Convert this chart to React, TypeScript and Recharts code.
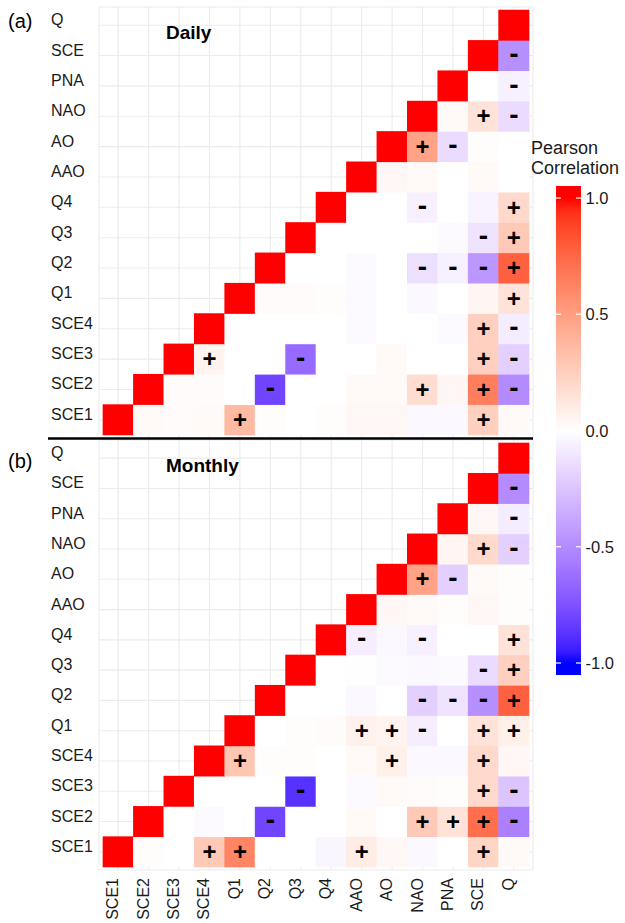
import React from 'react';
import { ScatterChart, Scatter, XAxis, YAxis, CartesianGrid } from 'recharts';

const variables = ['SCE1', 'SCE2', 'SCE3', 'SCE4', 'Q1', 'Q2', 'Q3', 'Q4', 'AAO', 'AO', 'NAO', 'PNA', 'SCE', 'Q'];

// row i holds correlations with columns i+1 .. 13 (diagonal is 1)
const dailyValues: number[][] = [
  [0.03, 0.02, 0.03, 0.36, 0.01, 0.0, 0.01, 0.04, 0.04, -0.03, -0.03, 0.25, 0.03],
  [0.02, 0.02, 0.0, -0.8, 0.0, 0.0, 0.03, 0.03, 0.18, 0.04, 0.65, -0.5],
  [0.06, 0.0, 0.0, -0.64, 0.0, 0.0, 0.03, 0.0, 0.0, 0.25, -0.2],
  [0.0, 0.0, 0.0, 0.0, -0.02, 0.0, 0.0, -0.02, 0.25, -0.08],
  [0.02, 0.02, 0.01, -0.02, 0.0, -0.03, 0.0, 0.05, 0.15],
  [0.0, 0.0, -0.02, 0.0, -0.13, -0.06, -0.45, 0.78],
  [0.0, 0.0, 0.0, 0.0, -0.02, -0.12, 0.28],
  [0.0, 0.0, -0.06, 0.0, -0.05, 0.2],
  [0.04, 0.03, 0.0, 0.03, 0.0],
  [0.48, -0.15, 0.01, 0.0],
  [0.03, 0.15, -0.15],
  [0.0, -0.06],
  [-0.48],
];
const dailySigns: string[] = [
  '...+.......+.',
  '...-....+.+-',
  '+..-.....+-',
  '........+-',
  '........+',
  '....---+',
  '.....-+',
  '..-..+',
  '.....',
  '+-..',
  '.+-',
  '.-',
  '-',
];

const monthlyValues: number[][] = [
  [0.01, 0.0, 0.28, 0.62, 0.0, 0.0, -0.04, 0.1, 0.04, -0.03, 0.0, 0.22, 0.03],
  [0.0, -0.02, 0.0, -0.8, 0.0, 0.0, 0.03, 0.0, 0.28, 0.15, 0.72, -0.55],
  [0.0, 0.0, 0.0, -0.88, 0.0, -0.02, 0.03, 0.02, 0.01, 0.2, -0.25],
  [0.3, 0.01, 0.01, 0.0, 0.03, 0.08, -0.03, -0.03, 0.2, 0.04],
  [0.0, 0.01, 0.02, 0.07, 0.06, -0.07, 0.0, 0.15, 0.08],
  [0.0, 0.0, -0.03, 0.0, -0.2, -0.12, -0.48, 0.78],
  [0.0, -0.01, -0.02, -0.03, -0.02, -0.15, 0.25],
  [-0.07, -0.03, -0.06, 0.0, 0.0, 0.15],
  [0.04, 0.03, 0.01, 0.04, 0.01],
  [0.48, -0.2, 0.03, 0.01],
  [0.05, 0.2, -0.2],
  [0.04, -0.08],
  [-0.5],
];
const monthlySigns: string[] = [
  '..++...+...+.',
  '...-....+++-',
  '...-.....+-',
  '+....+..+.',
  '...++-.++',
  '....---+',
  '.....-+',
  '-.-..+',
  '.....',
  '+-..',
  '.+-',
  '.-',
  '-',
];

const legendTicks = [1.0, 0.5, 0.0, -0.5, -1.0];

const FONT = '"Liberation Sans", Arial, sans-serif';
const idx = variables.map((_, i) => i);

// --- colour: gradient2 blue / white / red interpolated in CIELAB ---
const toLin = (c: number) => {
  c /= 255;
  return c <= 0.04045 ? c / 12.92 : Math.pow((c + 0.055) / 1.055, 2.4);
};
const toSrgb = (c: number) => {
  const v = c <= 0.0031308 ? 12.92 * c : 1.055 * Math.pow(c, 1 / 2.4) - 0.055;
  return Math.round(Math.max(0, Math.min(1, v)) * 255);
};
const WX = 0.95047, WZ = 1.08883;
function rgbToLab([r, g, b]: number[]) {
  const R = toLin(r), G = toLin(g), B = toLin(b);
  const X = (0.4124 * R + 0.3576 * G + 0.1805 * B) / WX;
  const Y = 0.2126 * R + 0.7152 * G + 0.0722 * B;
  const Z = (0.0193 * R + 0.1192 * G + 0.9505 * B) / WZ;
  const f = (t: number) => (t > 0.008856 ? Math.cbrt(t) : 7.787 * t + 16 / 116);
  const fx = f(X), fy = f(Y), fz = f(Z);
  return [116 * fy - 16, 500 * (fx - fy), 200 * (fy - fz)];
}
function labToHex([L, a, b]: number[]) {
  const fy = (L + 16) / 116, fx = fy + a / 500, fz = fy - b / 200;
  const inv = (t: number) => (t * t * t > 0.008856 ? t * t * t : (t - 16 / 116) / 7.787);
  const X = inv(fx) * WX, Y = inv(fy), Z = inv(fz) * WZ;
  const R = 3.2406 * X - 1.5372 * Y - 0.4986 * Z;
  const G = -0.9689 * X + 1.8758 * Y + 0.0415 * Z;
  const B = 0.0557 * X - 0.204 * Y + 1.057 * Z;
  return '#' + [R, G, B].map(c => toSrgb(c).toString(16).padStart(2, '0')).join('');
}
const LAB_RED = rgbToLab([255, 0, 0]);
const LAB_WHITE = rgbToLab([255, 255, 255]);
const LAB_BLUE = rgbToLab([0, 0, 255]);
function fillFor(v: number) {
  const t = Math.min(1, Math.abs(v));
  const end = v >= 0 ? LAB_RED : LAB_BLUE;
  return labToHex(LAB_WHITE.map((w, k) => w + (end[k] - w) * t));
}

type Cell = { x: number; y: number; v: number; s: string };
function buildCells(values: number[][], signs: string[]): Cell[] {
  const out: Cell[] = [];
  values.forEach((row, i) => {
    out.push({ x: i, y: i, v: 1, s: '' });
    row.forEach((v, k) => {
      const ch = signs[i][k];
      out.push({ x: i + 1 + k, y: i, v, s: ch === '.' ? '' : ch });
    });
  });
  out.push({ x: 13, y: 13, v: 1, s: '' });
  return out;
}
const dailyCells = buildCells(dailyValues, dailySigns);
const monthlyCells = buildCells(monthlyValues, monthlySigns);

const X_DOMAIN: [number, number] = [-0.63, 13.63];
const Y_DOMAIN: [number, number] = [-0.6, 13.6];
const PLOT_W = 434;
const PLOT_H = 431;
const CELL_W = PLOT_W / (X_DOMAIN[1] - X_DOMAIN[0]);
const CELL_H = PLOT_H / (Y_DOMAIN[1] - Y_DOMAIN[0]);

function renderCell(props: any) {
  const { cx, cy, payload } = props;
  if (cx == null || cy == null) return <g />;
  const s = payload.s;
  return (
    <g>
      <rect x={cx - CELL_W / 2 - 0.3} y={cy - CELL_H / 2 - 0.3} width={CELL_W + 0.6} height={CELL_H + 0.6} fill={fillFor(payload.v)} />
      {s === '+' && (
        <text x={cx} y={cy + 8.2} textAnchor="middle" fontSize={24} fontWeight="bold" fontFamily={FONT} fill="#000">+</text>
      )}
      {s === '-' && (
        <text x={cx} y={cy + 7.6} textAnchor="middle" fontSize={28} fontWeight="bold" fontFamily={FONT} fill="#000">-</text>
      )}
    </g>
  );
}

function YTick(props: any) {
  const { y, payload } = props;
  return (
    <text x={51} y={y} fontSize={16} fontFamily={FONT} fill="#1a1a1a" textAnchor="start">
      {variables[payload.value]}
    </text>
  );
}

function XTick(props: any) {
  const { x, payload } = props;
  const ty = 438;
  return (
    <text x={x} y={ty} transform={`rotate(-90, ${x}, ${ty})`} fontSize={16} fontFamily={FONT} fill="#1a1a1a" textAnchor="end">
      {variables[payload.value]}
    </text>
  );
}

function Panel({ cells, showX }: { cells: Cell[]; showX: boolean }) {
  return (
    <ScatterChart
      width={625}
      height={showX ? 483 : 438}
      margin={{ top: showX ? 0 : 7, right: 92, bottom: 0, left: 0 }}
    >
      <CartesianGrid stroke="#ebebeb" strokeWidth={1.1} />
      <XAxis
        type="number"
        dataKey="x"
        domain={X_DOMAIN}
        ticks={idx}
        interval={0}
        hide={!showX}
        height={53}
        axisLine={false}
        tickLine={false}
        tick={<XTick />}
        allowDataOverflow
      />
      <YAxis
        type="number"
        dataKey="y"
        domain={Y_DOMAIN}
        ticks={idx}
        interval={0}
        width={99}
        axisLine={false}
        tickLine={false}
        tick={<YTick />}
        allowDataOverflow
      />
      <Scatter data={cells} shape={renderCell} isAnimationActive={false} />
    </ScatterChart>
  );
}

function ColorBar() {
  const top = 186, bottom = 675, left = 556, w = 25;
  const yOf = (v: number) => 430.5 - v * 232.5;
  const stops = [];
  for (let k = 0; k <= 42; k++) {
    const v = 1.05 - k * 0.05;
    stops.push(<stop key={k} offset={`${((1.05 - v) / 2.1) * 100}%`} stopColor={fillFor(v)} />);
  }
  return (
    <g>
      <defs>
        <linearGradient id="cbar" x1="0" y1="0" x2="0" y2="1">{stops}</linearGradient>
      </defs>
      <text x={531} y={153.5} fontSize={18} fontFamily={FONT} fill="#1a1a1a">Pearson</text>
      <text x={531} y={174} fontSize={18} fontFamily={FONT} fill="#1a1a1a">Correlation</text>
      <rect x={left} y={top} width={w} height={bottom - top} fill="url(#cbar)" />
      {legendTicks.map(t => (
        <g key={t}>
          <line x1={left} x2={left + 5} y1={yOf(t)} y2={yOf(t)} stroke="#fff" strokeWidth={1.2} />
          <line x1={left + w - 5} x2={left + w} y1={yOf(t)} y2={yOf(t)} stroke="#fff" strokeWidth={1.2} />
          <text x={585.5} y={yOf(t) + 6} fontSize={16.5} fontFamily={FONT} fill="#1a1a1a">{t.toFixed(1)}</text>
        </g>
      ))}
    </g>
  );
}

export default function App() {
  return (
    <div style={{ position: 'absolute', left: 0, top: 0, width: 625, height: 923, background: '#fff', fontFamily: FONT }}>
      <div style={{ position: 'absolute', left: 0, top: 0 }}>
        <Panel cells={dailyCells} showX={false} />
      </div>
      <div style={{ position: 'absolute', left: 0, top: 440 }}>
        <Panel cells={monthlyCells} showX={true} />
      </div>
      <svg width={625} height={923} style={{ position: 'absolute', left: 0, top: 0, pointerEvents: 'none' }}>
        <line x1={48} x2={533} y1={438.5} y2={438.5} stroke="#000" strokeWidth={2.6} />
        <text x={8} y={28} fontSize={20} fontFamily={FONT} fill="#000">(a)</text>
        <text x={8} y={468} fontSize={20} fontFamily={FONT} fill="#000">(b)</text>
        <text x={166} y={38.6} fontSize={19} fontWeight="bold" fontFamily={FONT} fill="#000">Daily</text>
        <text x={166} y={471.6} fontSize={19} fontWeight="bold" fontFamily={FONT} fill="#000">Monthly</text>
        <ColorBar />
      </svg>
    </div>
  );
}
